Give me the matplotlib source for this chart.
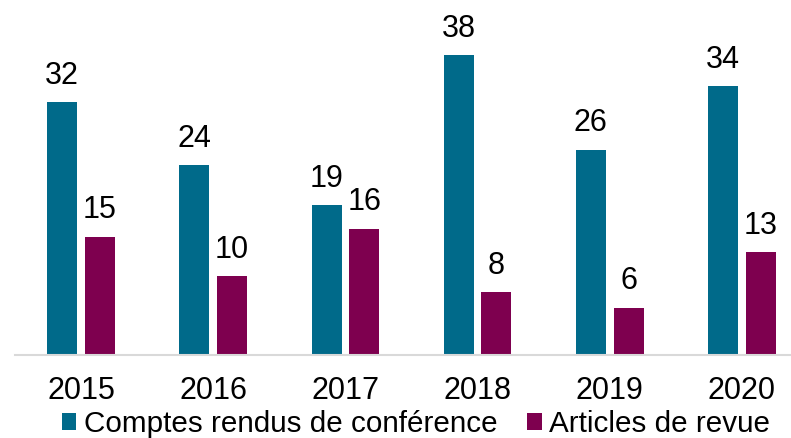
import matplotlib
matplotlib.use("Agg")
import matplotlib.pyplot as plt
import numpy as np

years = ["2015", "2016", "2017", "2018", "2019", "2020"]
conf = [32, 24, 19, 38, 26, 34]
revue = [15, 10, 16, 8, 6, 13]
series_names = ["Comptes rendus de conférence", "Articles de revue"]

plt.rcParams['font.family'] = ['Liberation Sans', 'DejaVu Sans']

W, H = 791, 438
fig = plt.figure(figsize=(W / 100, H / 100), dpi=100)
left = 15 / W
bottom = 1 - 355 / H
ax = fig.add_axes([left, bottom, (808 - 15) / W, 316 / H])

x = np.arange(len(years))
bw = 0.227
off = 0.143
fs = 22
c1, c2 = "#006A8A", "#7E004F"
b1 = ax.bar(x - off, conf, bw, color=c1, label=series_names[0])
b2 = ax.bar(x + off, revue, bw, color=c2, label=series_names[1])
ax.bar_label(b1, padding=8, fontsize=fs)
ax.bar_label(b2, padding=8, fontsize=fs)

ax.set_xlim(-0.5, len(years) - 0.5)
ax.set_ylim(0, 40)
ax.set_xticks(x)
ax.set_xticklabels(years, fontsize=fs)
ax.tick_params(axis='x', length=0, pad=15)
ax.set_yticks([])
for s in ["top", "right", "left"]:
    ax.spines[s].set_visible(False)
ax.spines["bottom"].set_color("#D9D9D9")
ax.spines["bottom"].set_linewidth(1.5)

fig.legend(handles=[b1, b2], loc='center', bbox_to_anchor=(416 / W, 1 - 424 / H),
           ncol=2, frameon=False, fontsize=21.3, handlelength=0.5, handleheight=0.5,
           handletextpad=0.25, columnspacing=1.0, borderpad=0)

fig.savefig("out.png", dpi=100)
